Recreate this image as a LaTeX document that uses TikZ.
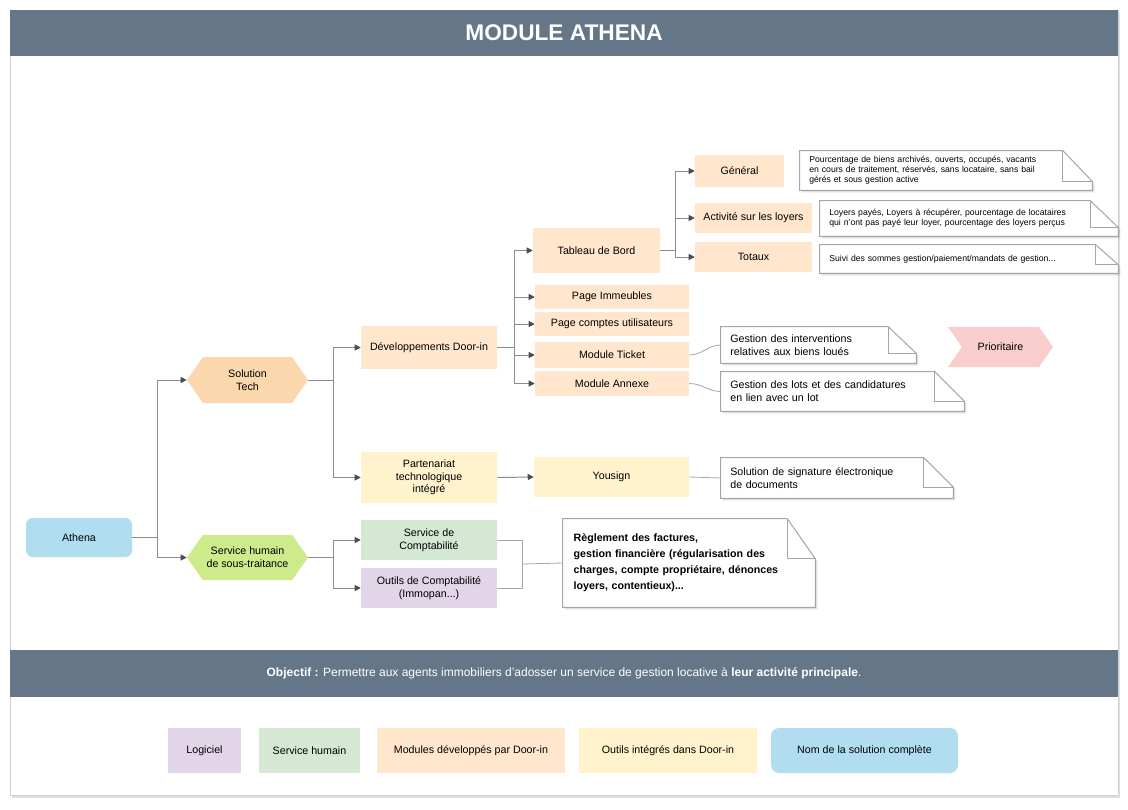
\documentclass[tikz,border=0pt]{standalone}
\usepackage{fontspec}
\setmainfont{Liberation Sans}
\usetikzlibrary{arrows.meta, positioning, calc, shapes.symbols, shadows, backgrounds}
\definecolor{slate}{HTML}{647687}
\definecolor{cblue}{HTML}{B1DDF0}
\definecolor{chexo}{HTML}{FAD7AC}
\definecolor{chexg}{HTML}{CDEB8B}
\definecolor{corange}{HTML}{FFE6CC}
\definecolor{cyellow}{HTML}{FFF2CC}
\definecolor{cgreen}{HTML}{D5E8D4}
\definecolor{cpurple}{HTML}{E1D5E7}
\definecolor{cpink}{HTML}{F8CECC}
\definecolor{linegray}{HTML}{8C8C8C}
\definecolor{tipgray}{HTML}{4D4D4D}
\definecolor{notegray}{HTML}{A6A6A6}

\begin{document}
\begin{tikzpicture}[x=0.75pt, y=-0.75pt,
		box/.style={fill=#1, inner sep=2pt, align=center, font=\fontsize{8}{9.5}\selectfont},
		hexa/.style={signal, signal to=east and west, signal pointer angle=110, fill=#1, inner sep=1pt, align=center, font=\fontsize{8}{9.5}\selectfont},
		band/.style={fill=slate, text=white, minimum width=831pt, inner sep=0pt},
		note/.style={text width=#1, align=left, inner xsep=7pt, inner ysep=0pt},
		notebg/.style={draw=notegray, line width=0.75pt, fill=white, drop shadow={opacity=0.25, shadow xshift=1.5pt, shadow yshift=-1.5pt}},
		link/.style={draw=linegray, line width=0.75pt, -{Triangle[length=4.5pt, width=4.5pt, color=tipgray]}},
		nolink/.style={draw=notegray, line width=0.6pt},
		small/.style={font=\fontsize{6.5}{7.5}\selectfont},
		medium/.style={font=\fontsize{8}{9.5}\selectfont}
	]
	\useasboundingbox (0,0) rectangle (1128,810);
	\begin{scope}[on background layer]
		\filldraw[draw=black!18, fill=white, line width=0.75pt, drop shadow={opacity=0.25, shadow xshift=1.5pt, shadow yshift=-2pt}] (10,10) rectangle (1118,795);
	\end{scope}

	\node[band, minimum height=34.5pt, font=\fontsize{17}{20}\selectfont\bfseries] (title) at (564,33) {MODULE ATHENA};

	% arbre
	\node[box=cblue, rounded corners=5pt, minimum width=79.5pt, minimum height=29.25pt] (athena) at (79,537.5) {Athena};
	\node[hexa=chexo, minimum width=90.75pt, minimum height=34.5pt] (tech) at (247.5,380) {Solution\\Tech};
	\node[hexa=chexg, minimum width=90.75pt, minimum height=33.75pt] (human) at (247.5,557.5) {Service humain\\de sous-traitance};

	\node[box=corange, minimum width=102pt, minimum height=32.25pt] (dev) at (429,347.5) {Développements Door-in};
	\node[box=cyellow, minimum width=102pt, minimum height=38.25pt] (part) at (429,477.5) {Partenariat\\technologique\\intégré};
	\node[box=cgreen, minimum width=102pt, minimum height=30pt] (compta) at (429,540) {Service de\\Comptabilité};
	\node[box=cpurple, minimum width=102pt, minimum height=30pt] (outils) at (429,588) {Outils de Comptabilité\\(Immopan...)};

	\node[box=corange, minimum width=95.25pt, minimum height=33.75pt] (tab) at (596.5,250.5) {Tableau de Bord};
	\node[box=corange, minimum width=115.5pt, minimum height=18pt] (imm) at (612,297) {Page Immeubles};
	\node[box=corange, minimum width=115.5pt, minimum height=18pt] (cpt) at (612,324) {Page comptes utilisateurs};
	\node[box=corange, minimum width=115.5pt, minimum height=19.5pt] (ticket) at (612,355) {Module Ticket};
	\node[box=corange, minimum width=115.5pt, minimum height=18.75pt] (annexe) at (612,383.5) {Module Annexe};
	\node[box=cyellow, minimum width=116.25pt, minimum height=30pt] (you) at (611.5,477) {Yousign};

	\node[box=corange, minimum width=66.75pt, minimum height=24pt] (gen) at (739.5,171) {Général};
	\node[box=corange, minimum width=87.75pt, minimum height=22.5pt] (act) at (753.5,218) {Activité sur les loyers};
	\node[box=corange, minimum width=87.75pt, minimum height=22.5pt] (tot) at (753.5,257) {Totaux};

	\node[signal, signal from=west, signal to=east, signal pointer angle=110, fill=cpink, minimum width=78.75pt, minimum height=30pt, medium] (prio) at (1000.5,347) {Prioritaire};

	% notes
	\node[note=205pt, minimum height=29.25pt, small] (nGen) at (946,170.5) {Pourcentage de biens archivés, ouverts, occupés, vacants\\en cours de traitement, réservés, sans locataire, sans bail\\gérés et sous gestion active};
	\node[note=209.5pt, minimum height=26.25pt, small] (nAct) at (969,218.5) {Loyers payés, Loyers à récupérer, pourcentage de locataires\\qui n'ont pas payé leur loyer, pourcentage des loyers perçus};
	\node[note=209.5pt, minimum height=21pt, small] (nTot) at (969,259) {Suivi des sommes gestion/paiement/mandats de gestion...};
	\node[note=132.25pt, minimum height=27pt, medium] (nTicket) at (818.5,345) {Gestion des interventions\\relatives aux biens loués};
	\node[note=168.25pt, minimum height=29.25pt, medium] (nAnnexe) at (842.5,391.5) {Gestion des lots et des candidatures\\en lien avec un lot};
	\node[note=160pt, minimum height=30pt, medium] (nYou) at (837,478) {Solution de signature électronique\\de documents};
	\node[note=173pt, minimum height=66pt, font=\fontsize{8}{12}\selectfont\bfseries, inner xsep=8pt] (nCompta) at (689,563) {Règlement des factures,\\gestion financière (régularisation des\\charges, compte propriétaire, dénonces\\loyers, contentieux)...};

	\begin{scope}[on background layer]
		\foreach \n/\fx/\fy in {nGen/22pt/23pt, nAct/21pt/20pt, nTot/17pt/15pt, nTicket/21pt/20pt, nAnnexe/22pt/22pt, nYou/22pt/22pt, nCompta/21pt/30pt}{
			\filldraw[notebg] (\n.north west) -- ([xshift=-\fx]\n.north east) -- ([yshift=-\fy]\n.north east) -- (\n.south east) -- (\n.south west) -- cycle;
			\draw[nolink, line width=0.75pt] ([xshift=-\fx]\n.north east) -- ([xshift=-\fx, yshift=-\fy]\n.north east) -- ([yshift=-\fy]\n.north east);
		}
	\end{scope}

	% liens
	\draw[link] (athena.east) -- ++(25,0) |- (tech.west);
	\draw[link] (athena.east) -- ++(25,0) |- (human.west);
	\draw[link] (tech.east) -- ++(25,0) |- (dev.west);
	\draw[link] (tech.east) -- ++(25,0) |- (part.west);
	\draw[link] (human.east) -- ++(25,0) |- (compta.west);
	\draw[link] (human.east) -- ++(25,0) |- (outils.west);
	\foreach \c in {tab, imm, cpt, ticket, annexe}
		\draw[link] (dev.east) -- ++(17,0) |- (\c.west);
	\foreach \c in {gen, act, tot}
		\draw[link] (tab.east) -- ++(15,0) |- (\c.west);
	\draw[link] (part.east) -- (you.west);

	\draw[nolink] (ticket.east) to[out=0, in=180] (nTicket.west);
	\draw[nolink] (annexe.east) to[out=0, in=180] (nAnnexe.west);
	\draw[nolink] (you.east) -- (nYou.west);
	\draw[nolink] (compta.east) -- ++(25,0) coordinate (brk) |- (outils.east);
	\draw[nolink] ($(brk)!0.5!(brk |- outils.east)$) -- (nCompta.west);

	\node[band, minimum height=35.25pt, font=\fontsize{9}{11}\selectfont] (goal) at (564,673.5) {\textbf{Objectif :} Permettre aux agents immobiliers d'adosser un service de gestion locative à \textbf{leur activité principale}.};

	% legende
	\node[box=cpurple, minimum width=54.75pt, minimum height=33.75pt] (lgLog) at (204.5,750.5) {Logiciel};
	\node[box=cgreen, minimum width=75.75pt, minimum height=33.75pt] (lgHum) at (309.5,750.5) {Service humain};
	\node[box=corange, minimum width=141pt, minimum height=33.75pt] (lgMod) at (471,750.5) {Modules développés par Door-in};
	\node[box=cyellow, minimum width=133.5pt, minimum height=33.75pt] (lgOut) at (668,750.5) {Outils intégrés dans Door-in};
	\node[box=cblue, rounded corners=6pt, minimum width=140.25pt, minimum height=33.75pt] (lgNom) at (864.5,750.5) {Nom de la solution complète};
\end{tikzpicture}
\end{document}
